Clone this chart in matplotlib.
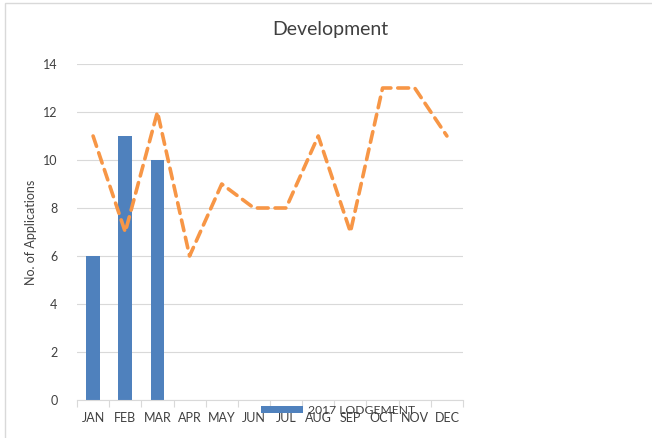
import numpy as np
import matplotlib.pyplot as plt
from matplotlib.patches import Rectangle

plt.rcParams['font.family'] = ['Lato', 'DejaVu Sans']

# данные
months = ['JAN', 'FEB', 'MAR', 'APR', 'MAY', 'JUN', 'JUL', 'AUG', 'SEP', 'OCT', 'NOV', 'DEC']
lodgement_2017 = [6, 11, 10]
line_values = [11, 7, 12, 6, 9, 8, 8, 11, 7, 13, 13, 11]
y_ticks = [0, 2, 4, 6, 8, 10, 12, 14]

fig = plt.figure(figsize=(6.52, 4.38), dpi=100)
ax = fig.add_axes([77/652, 1-400/438, (463-77)/652, (400-64)/438])

x = np.arange(len(months))
ax.bar(x[:len(lodgement_2017)], lodgement_2017, width=0.42, color='#4F81BD',
       label='2017 LODGEMENT', zorder=2)
ax.plot(x, line_values, color='#F79646', linewidth=2.6, linestyle=(0, (3.0, 1.9)),
        dash_capstyle='round', solid_capstyle='round', zorder=3)

ax.set_xlim(-0.5, len(months) - 0.5)
ax.set_ylim(0, 14)
ax.set_yticks(y_ticks)
ax.set_xticks(x)
ax.set_xticklabels(months)
ax.set_xticks(np.arange(-0.5, len(months)), minor=True)
ax.tick_params(axis='x', which='major', length=0, pad=9, labelsize=9, labelcolor='#404040')
ax.tick_params(axis='x', which='minor', length=5, color='#D9D9D9', width=0.8)
ax.tick_params(axis='y', length=0, pad=14, labelsize=9, labelcolor='#404040')
ax.grid(axis='y', color='#D9D9D9', linewidth=0.8, zorder=0)
ax.set_axisbelow(True)
for s in ['top', 'right', 'left']:
    ax.spines[s].set_visible(False)
ax.spines['bottom'].set_color('#D9D9D9')
ax.spines['bottom'].set_linewidth(0.8)

ax.set_ylabel('No. of Applications', fontsize=9, color='#404040', labelpad=4)

fig.text(330/652, 1-30/438, 'Development', ha='center', va='center',
         fontsize=14, color='#404040')

ax.legend(loc='center left', bbox_to_anchor=(255/652, 1-410/438),
          bbox_transform=fig.transFigure, frameon=False, fontsize=8.7,
          handlelength=3.5, handleheight=0.55, handletextpad=0.4,
          labelcolor='#404040', borderpad=0)

# рамка вокруг области диаграммы
fig.patches.append(Rectangle((5/652, -0.1), 1.2, 1 - 3/438 + 0.1,
                             transform=fig.transFigure, fill=False,
                             edgecolor='#D9D9D9', linewidth=1))

fig.savefig('out.png', dpi=100)
